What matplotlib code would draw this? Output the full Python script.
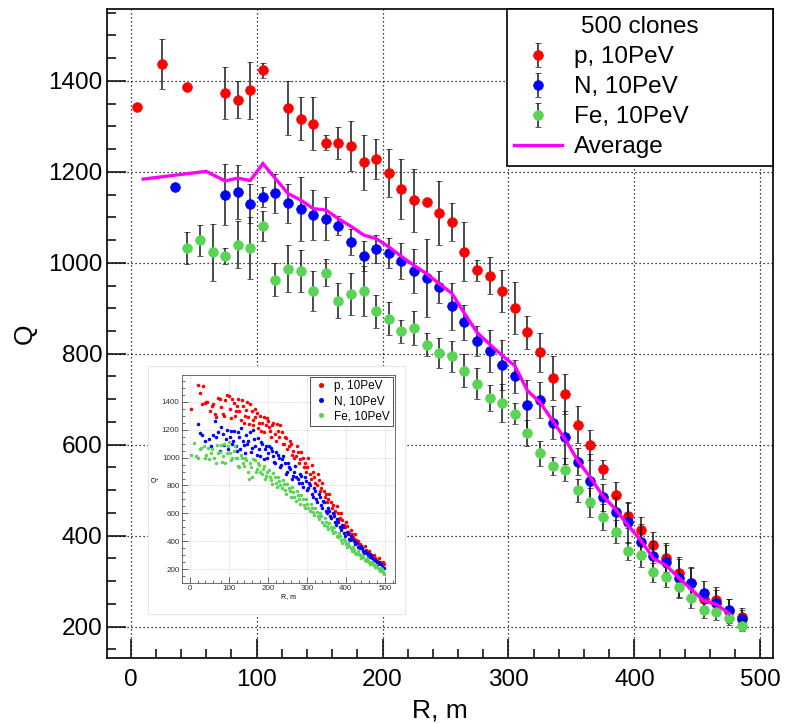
import matplotlib
matplotlib.use('Agg')
import matplotlib.pyplot as plt
from matplotlib.patches import Rectangle
from matplotlib.ticker import MultipleLocator
from matplotlib.lines import Line2D

plt.rcParams['font.family'] = ['Liberation Sans', 'DejaVu Sans']

# ---------------- main data ----------------
R_p = [5, 25, 45, 75, 85, 95, 105, 125, 135, 145, 155, 165, 175, 185, 195, 205, 215, 225,
       235, 245, 255, 265, 275, 285, 295, 305, 315, 325, 335, 345, 355, 365, 375, 385, 395,
       405, 415, 425, 435, 445, 455, 465, 475, 485]
Q_p = [1343, 1437, 1387, 1374, 1359, 1379, 1423, 1340, 1317, 1306, 1264, 1264, 1257, 1221,
       1228, 1197, 1163, 1137, 1134, 1110, 1090, 1024, 984, 972, 938, 900, 847, 803, 746, 712,
       644, 600, 546, 490, 444, 413, 380, 350, 318, 295, 260, 258, 235, 221]
E_p = [0, 55, 0, 57, 40, 62, 17, 59, 48, 58, 16, 35, 55, 60, 44, 53, 66, 70, 8, 70, 42, 65,
       23, 41, 47, 57, 37, 43, 48, 44, 40, 33, 21, 29, 27, 27, 27, 29, 30, 33, 20, 29, 26, 20]

R_N = [35, 75, 85, 95, 105, 115, 125, 135, 145, 155, 165, 175, 185, 195, 205, 215, 225, 235,
       245, 255, 265, 275, 285, 295, 305, 315, 325, 335, 345, 355, 365, 375, 385, 395, 405,
       415, 425, 435, 445, 455, 465, 475, 485]
Q_N = [1167, 1150, 1156, 1130, 1145, 1153, 1131, 1118, 1105, 1097, 1081, 1046, 1015, 1030,
       1022, 1004, 982, 967, 947, 904, 869, 829, 806, 776, 750, 687, 698, 648, 616, 563, 521,
       484, 451, 429, 387, 356, 343, 308, 295, 273, 253, 236, 217]
E_N = [0, 67, 60, 43, 22, 43, 43, 70, 55, 48, 21, 29, 33, 31, 33, 40, 48, 86, 36, 51, 38,
       33, 47, 55, 37, 55, 40, 36, 59, 30, 58, 30, 35, 46, 38, 33, 40, 44, 37, 27, 28, 25, 20]

R_Fe = [45, 55, 65, 75, 85, 95, 105, 115, 125, 135, 145, 155, 165, 175, 185, 195, 205, 215,
        225, 235, 245, 255, 265, 275, 285, 295, 305, 315, 325, 335, 345, 355, 365, 375, 385,
        395, 405, 415, 425, 435, 445, 455, 465, 475, 485]
Q_Fe = [1033, 1049, 1023, 1015, 1040, 1033, 1080, 963, 987, 981, 938, 978, 917, 931, 938, 893,
        877, 849, 857, 820, 801, 794, 763, 734, 702, 691, 668, 626, 581, 554, 545, 500, 473,
        441, 409, 367, 358, 319, 309, 288, 262, 236, 233, 219, 202]
E_Fe = [35, 33, 62, 17, 51, 68, 33, 36, 51, 46, 45, 30, 39, 46, 54, 37, 36, 26, 38, 26, 33,
        34, 37, 34, 29, 42, 23, 28, 27, 20, 25, 25, 32, 29, 26, 20, 27, 21, 22, 22, 20, 17,
        18, 16, 12]

R_avg = [10, 60, 75, 85, 95, 105, 125, 135, 145, 155, 165, 175, 185, 195, 205, 215, 225, 235,
         245, 255, 265, 275, 285, 295, 305, 315, 325, 335, 345, 355, 365, 375, 385, 395, 405,
         415, 425, 435, 445, 455, 465, 475]
Q_avg = [1184, 1201, 1180, 1186, 1181, 1218, 1152, 1138, 1119, 1116, 1097, 1080, 1061, 1053,
         1035, 1014, 994, 976, 954, 933, 889, 847, 821, 796, 774, 719, 693, 653, 612, 565,
         528, 487, 458, 422, 390, 350, 335, 308, 282, 257, 249, 229]

labels = ['p, 10PeV', 'N, 10PeV', 'Fe, 10PeV', 'Average']
legend_title = '500 clones'

# ---------------- inset data (R, Q) ----------------
inset_p = [(2, 1345), (22, 1520), (26, 1460), (33, 1515), (38, 1390), (45, 1400), (52, 1330),
           (60, 1380), (68, 1290), (73, 1425), (80, 1360), (88, 1300), (95, 1450), (100, 1440),
           (106, 1280), (112, 1390), (118, 1330), (124, 1420), (130, 1270), (135, 1370),
           (141, 1300), (147, 1400), (152, 1240), (158, 1330), (163, 1270), (168, 1350),
           (174, 1210), (180, 1300), (186, 1250), (191, 1180), (197, 1280), (203, 1220),
           (208, 1150), (214, 1250), (220, 1120), (226, 1190), (232, 1230), (238, 1100),
           (244, 1150), (250, 1060), (256, 1120), (262, 1020), (268, 1000), (274, 1080),
           (280, 960), (286, 1040), (292, 930), (298, 900), (304, 1000), (310, 850), (316, 900),
           (322, 820), (328, 880), (334, 760), (340, 820), (346, 720), (352, 680), (358, 740),
           (364, 640), (370, 600), (376, 650), (382, 560), (388, 600), (394, 520), (400, 540),
           (406, 470), (412, 480), (418, 430), (424, 450), (430, 400), (436, 380), (442, 350),
           (448, 370), (454, 320), (460, 330), (466, 290), (472, 300), (478, 270), (484, 280),
           (490, 240), (496, 250),
           (30, 1380), (42, 1395), (56, 1370), (64, 1310), (77, 1420), (84, 1310), (91, 1410),
           (103, 1350), (109, 1420), (115, 1300), (121, 1370), (127, 1330), (133, 1410),
           (138, 1250), (144, 1340), (150, 1290), (155, 1380), (161, 1230), (166, 1290),
           (171, 1320), (177, 1250), (183, 1190), (189, 1290), (194, 1230), (200, 1260),
           (206, 1190), (211, 1230), (217, 1170), (223, 1240), (229, 1150), (235, 1180),
           (241, 1100), (247, 1140), (253, 1080), (259, 1100), (265, 1050), (271, 1010),
           (277, 1040), (283, 990), (289, 1000), (295, 960), (301, 930), (307, 880), (313, 950),
           (319, 860), (325, 800), (331, 840), (337, 780), (343, 760), (349, 740), (355, 700),
           (361, 680), (367, 660), (373, 620), (379, 600), (385, 570), (391, 550), (397, 500),
           (403, 510), (409, 460), (415, 450), (421, 420), (427, 410), (433, 370), (439, 370),
           (445, 330), (451, 340), (457, 310), (463, 300), (469, 280), (475, 280), (481, 260),
           (487, 250), (493, 230), (499, 240)]

inset_N = [(20, 1240), (26, 1173), (32, 1161), (48, 1130), (58, 1160), (64, 1264), (72, 1180),
           (81, 1221), (88, 1090), (95, 1200), (102, 1150), (108, 1100), (114, 1190), (120, 1050),
           (126, 1150), (132, 1210), (138, 1090), (144, 1160), (150, 1120), (156, 1040),
           (162, 1200), (168, 1080), (174, 1140), (180, 1010), (186, 1100), (192, 1060),
           (198, 1000), (204, 1080), (210, 1050), (216, 970), (222, 1040), (228, 1000), (234, 950),
           (240, 1010), (246, 880), (252, 960), (258, 920), (264, 870), (270, 940), (276, 850),
           (282, 880), (288, 820), (294, 860), (300, 770), (306, 820), (312, 740), (318, 780),
           (324, 700), (330, 740), (336, 660), (342, 690), (348, 620), (354, 640), (360, 580),
           (366, 600), (372, 540), (378, 560), (384, 500), (390, 520), (396, 460), (402, 470),
           (408, 420), (414, 440), (420, 400), (426, 390), (432, 360), (438, 370), (444, 330),
           (450, 330), (456, 300), (462, 310), (468, 280), (474, 270), (480, 250), (486, 250),
           (492, 220), (498, 210),
           (40, 1120), (53, 1080), (68, 1150), (77, 1050), (85, 1170), (92, 1130), (99, 1060),
           (105, 1190), (111, 1120), (117, 1080), (123, 1180), (129, 1060), (135, 1120),
           (141, 1030), (147, 1100), (153, 1180), (159, 1070), (165, 1130), (171, 1020),
           (177, 1060), (183, 1110), (189, 990), (195, 1080), (201, 1030), (207, 1070),
           (213, 1010), (219, 960), (225, 1020), (231, 930), (237, 990), (243, 960), (249, 900),
           (255, 930), (261, 850), (267, 900), (273, 860), (279, 820), (285, 870), (291, 790),
           (297, 830), (303, 780), (309, 800), (315, 720), (321, 760), (327, 680), (333, 720),
           (339, 640), (345, 680), (351, 600), (357, 620), (363, 570), (369, 580), (375, 520),
           (381, 540), (387, 480), (393, 500), (399, 440), (405, 450), (411, 410), (417, 420),
           (423, 380), (429, 390), (435, 350), (441, 350), (447, 320), (453, 320), (459, 290),
           (465, 300), (471, 270), (477, 260), (483, 240), (489, 240), (495, 210)]

inset_Fe = [(4, 1018), (10, 1106), (21, 994), (28, 1070), (35, 1080), (42, 1020), (50, 990),
            (57, 1060), (63, 1000), (70, 1090), (76, 1040), (82, 970), (88, 1100), (94, 1030),
            (100, 1110), (106, 980), (112, 1050), (118, 1000), (124, 940), (130, 1020),
            (136, 960), (142, 1000), (148, 900), (154, 960), (160, 860), (166, 980), (172, 920),
            (178, 950), (184, 880), (190, 940), (196, 870), (202, 910), (208, 840), (214, 890),
            (220, 820), (226, 860), (232, 800), (238, 840), (244, 770), (250, 810), (256, 760),
            (262, 790), (268, 720), (274, 760), (280, 700), (286, 730), (292, 660), (298, 700),
            (304, 640), (310, 670), (316, 610), (322, 640), (328, 580), (334, 600), (340, 540),
            (346, 570), (352, 510), (358, 530), (364, 480), (370, 500), (376, 440), (382, 460),
            (388, 410), (394, 420), (400, 380), (406, 390), (412, 350), (418, 360), (424, 320),
            (430, 330), (436, 300), (442, 300), (448, 270), (454, 280), (460, 250), (466, 250),
            (472, 230), (478, 230), (484, 200), (490, 210), (496, 180), (499, 170),
            (15, 1010), (25, 1060), (38, 1000), (46, 1070), (54, 1030), (66, 960), (73, 1030),
            (79, 1090), (85, 1010), (91, 960), (97, 1080), (103, 1030), (109, 1000), (115, 1080),
            (121, 1000), (127, 930), (133, 1000), (139, 940), (145, 980), (151, 850), (157, 930),
            (163, 990), (169, 900), (175, 960), (181, 900), (187, 920), (193, 850), (199, 900),
            (205, 860), (211, 810), (217, 860), (223, 790), (229, 830), (235, 780), (241, 810),
            (247, 740), (253, 780), (259, 720), (265, 750), (271, 690), (277, 730), (283, 670),
            (289, 700), (295, 640), (301, 670), (307, 620), (313, 640), (319, 590), (325, 610),
            (331, 560), (337, 580), (343, 520), (349, 540), (355, 490), (361, 500), (367, 460),
            (373, 470), (379, 430), (385, 440), (391, 390), (397, 400), (403, 360), (409, 370),
            (415, 330), (421, 340), (427, 310), (433, 310), (439, 280), (445, 290), (451, 260),
            (457, 260), (463, 240), (469, 240), (475, 220), (481, 220), (487, 190), (493, 200)]

C_P = '#ff0000'
C_N = '#0000ff'
C_FE = '#59d454'
C_AVG = '#ff00ff'

W, H = 786, 724
fig = plt.figure(figsize=(W / 100, H / 100), dpi=100)


def px_axes(l, r, t, b):
    return [l / W, (H - b) / H, (r - l) / W, (b - t) / H]


ax = fig.add_axes(px_axes(106.7, 773, 9, 658))
ax.set_xlim(-19, 510)
ax.set_ylim(131, 1558)

ax.xaxis.set_major_locator(MultipleLocator(100))
ax.xaxis.set_minor_locator(MultipleLocator(20))
ax.yaxis.set_major_locator(MultipleLocator(200))
ax.yaxis.set_minor_locator(MultipleLocator(50))
ax.tick_params(which='both', direction='in', top=False, right=False, width=1.1)
ax.tick_params(which='major', length=13.5, labelsize=17.5)
ax.tick_params(axis='y', which='major', pad=3)
ax.tick_params(axis='x', which='major', pad=8)
ax.tick_params(which='minor', length=6.8)
for s in ax.spines.values():
    s.set_linewidth(1.2)
ax.grid(True, which='major', color='black', linestyle=(0, (1, 2.2)), linewidth=0.9)
ax.set_axisbelow(True)

ax.set_xlabel('R, m', fontsize=19, labelpad=5)
ax.set_ylabel('Q', fontsize=19, labelpad=8)

handles = []
for (R, Q, E, c, z) in [(R_p, Q_p, E_p, C_P, 3), (R_N, Q_N, E_N, C_N, 4), (R_Fe, Q_Fe, E_Fe, C_FE, 5)]:
    h = ax.errorbar(R, Q, yerr=E, fmt='o', color=c, ms=7.0, mec=c, mew=0.5,
                    ecolor='#1a1a1a', elinewidth=1.1, capsize=2.0, capthick=1.0, zorder=z)
    handles.append(h)
la, = ax.plot(R_avg, Q_avg, color=C_AVG, lw=2.4, zorder=6, solid_joinstyle='miter')
handles.append(la)

leg = ax.legend(handles, labels, title=legend_title, loc='upper left',
                bbox_to_anchor=((507 - 106.7) / (773 - 106.7), 1.0,
                                (773 - 507) / (773 - 106.7), 0.0),
                mode='expand', borderaxespad=0, fontsize=17.5, title_fontsize=17.5,
                frameon=True, fancybox=False, edgecolor='black', framealpha=1,
                handlelength=1.95, handletextpad=0.5, borderpad=0.3, labelspacing=0.33)
leg.get_frame().set_linewidth(1.2)
leg.set_zorder(10)

# ---------------- inset ----------------
bg = Rectangle((148 / W, (H - 614) / H), (405 - 148) / W, (614 - 366) / H,
               transform=fig.transFigure, facecolor='white', edgecolor='#e6e6e6',
               linewidth=0.8, zorder=20)
fig.patches.append(bg)

axi = fig.add_axes(px_axes(181.7, 395, 375, 583))
axi.set_zorder(25)
axi.set_xlim(-21, 526)
axi.set_ylim(102, 1591)
axi.xaxis.set_major_locator(MultipleLocator(100))
axi.xaxis.set_minor_locator(MultipleLocator(20))
axi.yaxis.set_major_locator(MultipleLocator(200))
axi.yaxis.set_minor_locator(MultipleLocator(50))
axi.tick_params(which='both', direction='in', top=False, right=False, width=0.5,
                labelsize=5.8, pad=1.5, colors='#333333')
axi.tick_params(which='major', length=4)
axi.tick_params(which='minor', length=2)
for s in axi.spines.values():
    s.set_linewidth(0.6)
    s.set_color('#555555')
axi.grid(True, which='major', color='#bdbdbd', linestyle=(0, (1, 1.5)), linewidth=0.5)
axi.set_axisbelow(True)
axi.set_xlabel('R, m', fontsize=5, labelpad=1)
axi.set_ylabel('Q', fontsize=5, labelpad=2)

ihandles = []
for data, c in [(inset_p, C_P), (inset_N, C_N), (inset_Fe, C_FE)]:
    xs = [d[0] for d in data]
    ys = [d[1] for d in data]
    axi.scatter(xs, ys, s=6.5, color=c, linewidths=0, zorder=3)
    ihandles.append(Line2D([], [], marker='o', ls='none', color=c, ms=2.6))
ileg = axi.legend(ihandles, labels[:3], loc='upper right', borderaxespad=0.15, fontsize=8.5,
                  frameon=True, fancybox=False, edgecolor='#333333', framealpha=1,
                  handlelength=1.2, handletextpad=0.5, borderpad=0.3, labelspacing=0.25)
ileg.get_frame().set_linewidth(0.6)

fig.savefig('out.png', dpi=100)
